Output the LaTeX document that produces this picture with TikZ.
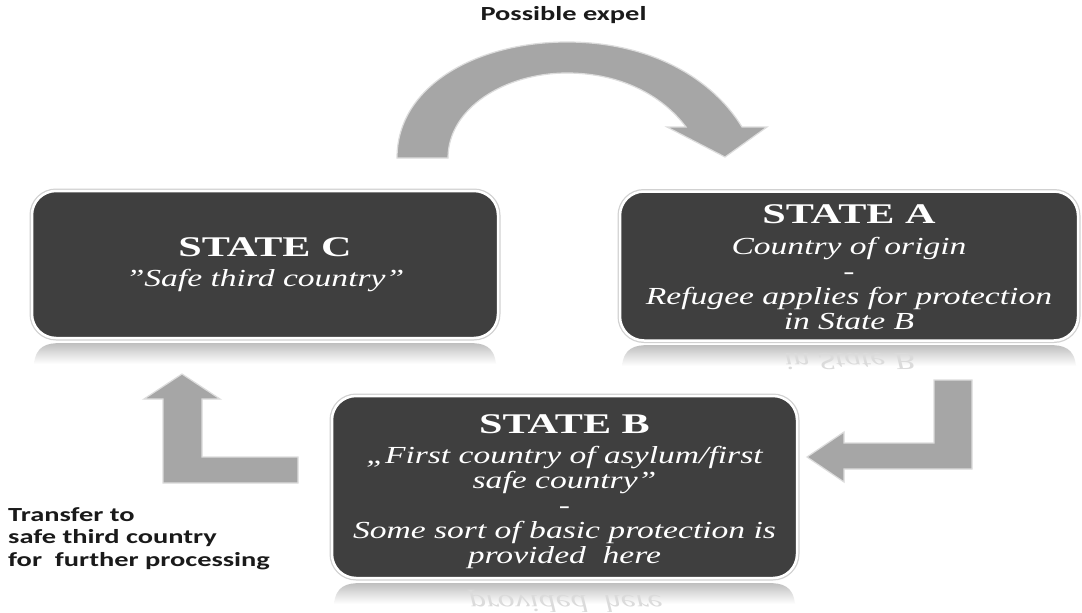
\documentclass[tikz,border=0pt]{standalone}
\usepackage{fontspec}
\newfontfamily\headfont[FakeStretch=1.48]{Liberation Serif}
\newfontfamily\itfont[FakeStretch=1.37]{Liberation Serif}
\newfontfamily\lblfont[FakeStretch=1.42]{Carlito}
\definecolor{boxgray}{HTML}{3F3F3F}
\definecolor{arrowgray}{HTML}{A6A6A6}
\definecolor{arrowedge}{HTML}{DCDCDC}
\definecolor{lbltext}{HTML}{1A1A1A}
\newcommand{\hd}[1]{{\headfont\upshape\bfseries\fontsize{28.5}{25}\selectfont #1}}
\begin{document}
\begin{tikzpicture}[x=1pt,y=-1pt,
  statebox/.style={rounded corners=24pt, fill=boxgray, draw=white, line width=2.5pt,
    preaction={draw=black!18, line width=5pt}, inner sep=0pt},
  boxtext/.style={align=center, inner sep=0pt, text=white, anchor=base,
    font=\itfont\itshape\fontsize{24.5}{25}\selectfont},
  blockarrow/.style={fill=arrowgray, draw=arrowedge, line width=1.2pt, line join=miter},
  lbl/.style={font=\lblfont\bfseries\fontsize{20}{22.3}\selectfont, text=lbltext, align=left, inner sep=0pt},
  reflshade/.style={top color=black!25, bottom color=white, draw=none},
  refl/.style={yscale=-1, transform shape, text=black!14, inner sep=0pt,
    font=\itfont\itshape\fontsize{24.5}{25}\selectfont}
]
\fill[white] (0,0) rectangle (1082,613);
\useasboundingbox (0,0) rectangle (1082,613);

% reflections
\shade[reflshade] (34,364) .. controls (36,346) and (46,343) .. (62,343) -- (468,343) .. controls (484,343) and (494,346) .. (496,364) -- cycle;
\shade[reflshade] (622,366) .. controls (624,348) and (634,345) .. (650,345) -- (1048,345) .. controls (1064,345) and (1074,348) .. (1076,366) -- cycle;
\shade[reflshade] (334,604) .. controls (336,586) and (346,583) .. (362,583) -- (767,583) .. controls (783,583) and (793,586) .. (795,604) -- cycle;
\node[refl] (reflA) at (849,361) {in State B};
\node[refl] (reflB) at (566,601) {provided~ here};

% state boxes
\node[statebox, minimum width=466pt, minimum height=147pt] (C) at (265,264.5) {};
\node[statebox, minimum width=458pt, minimum height=149pt] (A) at (849,266) {};
\node[statebox, minimum width=465pt, minimum height=182pt] (B) at (564.5,487) {};

\node[boxtext] (Ctext) at (265,286) {\hd{STATE C}\\[5pt]”Safe third country”};
\node[boxtext] (Atext) at (849,329) {\hd{STATE A}\\[6pt]Country of origin\\-\\Refugee applies for protection\\in State B};
\node[boxtext] (Btext) at (564.5,563) {\hd{STATE B}\\[5pt]„First country of asylum/first\\safe country”\\-\\Some sort of basic protection is\\provided~ here};

% block arrows
\draw[blockarrow] (397,158) .. controls (397,85) and (478,42) .. (567,42)
  .. controls (650,42) and (712,78) .. (742,127) -- (767,127) -- (725,157) -- (667,127) -- (686,127)
  .. controls (662,95) and (620,73) .. (567,73)
  .. controls (505,73) and (448,108) .. (448,158) -- cycle;
\draw[blockarrow] (934,380) -- (972,380) -- (972,469) -- (844,469) -- (844,482) -- (807,457)
  -- (844,432) -- (844,443) -- (934,443) -- cycle;
\draw[blockarrow] (182,374) -- (220,399) -- (202,399) -- (202,457) -- (298,457) -- (298,483)
  -- (163,483) -- (163,399) -- (144,399) -- cycle;

% labels
\node[lbl, anchor=base] (expel) at (563.5,20) {Possible expel};
\node[lbl, anchor=base west] (transfer) at (8,566) {Transfer to\\safe third country\\for~ further processing};
\end{tikzpicture}
\end{document}
